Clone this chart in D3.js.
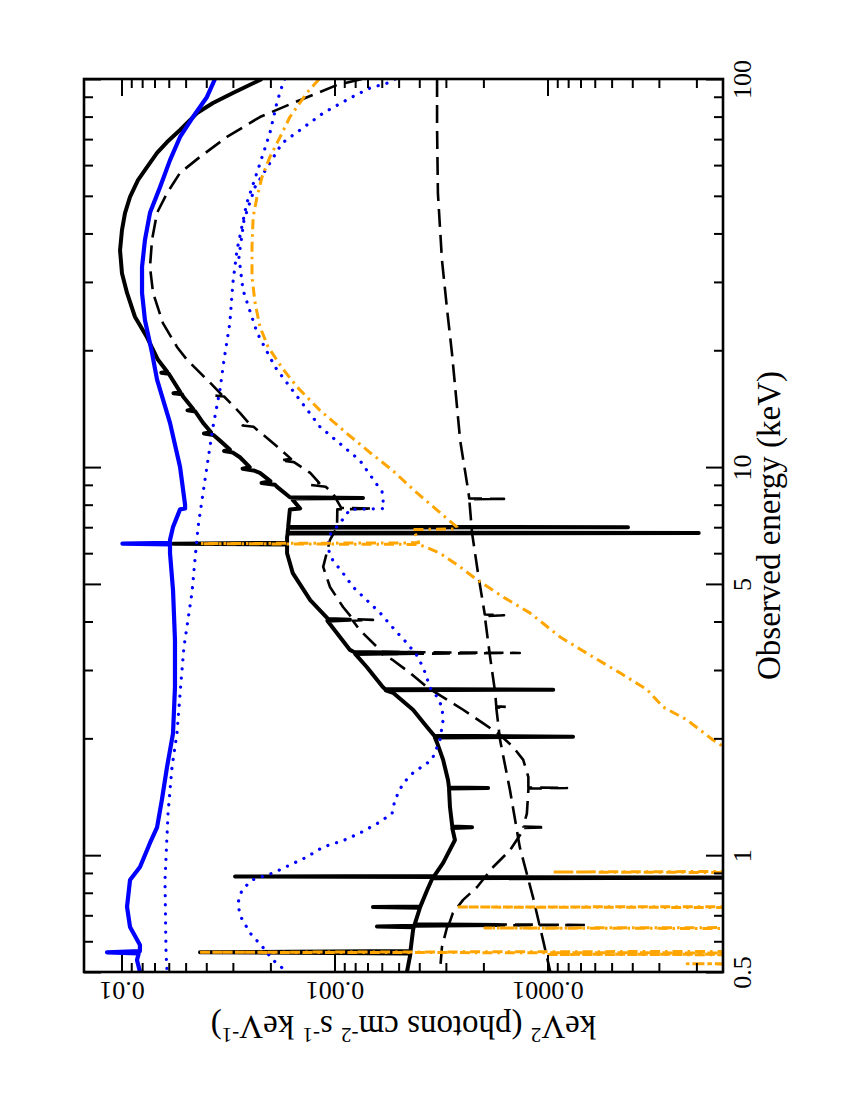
<!DOCTYPE html>
<html><head><meta charset="utf-8">
<script src="https://cdn.jsdelivr.net/npm/d3@7"></script>
<style>body{margin:0;background:#fff} text{font-family:"Liberation Serif","Times New Roman",serif}</style>
</head><body>
<svg id="c" width="850" height="1100"></svg>
<script>
// ---- tick values ----
const energyMajor = [0.5, 1, 5, 10, 100];
const energyMinor = [0.6, 0.7, 0.8, 0.9, 2, 3, 4, 6, 7, 8, 9, 20, 30, 40, 50, 60, 70, 80, 90];
const fluxMajor = [0.01, 0.001, 0.0001];
const fluxMinor = [0.009,0.008,0.007,0.006,0.005,0.004,0.003,0.002,
  0.0009,0.0008,0.0007,0.0006,0.0005,0.0004,0.0003,0.0002,
  0.00009,0.00008,0.00007,0.00006,0.00005,0.00004,0.00003,0.00002];

// ---- series: [energy keV, keV^2 flux] ----
const blueSolid = [[100,0.00364],[89.9,0.00397],[79.8,0.00462],[70.9,0.00531],[61.8,0.00592],[52.7,0.00659],[45.2,0.00735],[38.5,0.00776],[32.8,0.00801],[28.1,0.00801],[23.9,0.00776],[19.7,0.00719],[16.8,0.00681],[13.0,0.00592],[10.0,0.00531],[8.0,0.00503],[7.82,0.00503],[7.78,0.00531],[7.01,0.00573],[6.49,0.00592],[6.38,0.00592],[6.35,0.0099],[6.32,0.00592],[6.0,0.00592],[4.82,0.00573],[3.58,0.00561],[2.71,0.00561],[2.06,0.00573],[1.69,0.00611],[1.39,0.00646],[1.18,0.00681],[1.075,0.00735],[0.932,0.00819],[0.863,0.00912],[0.736,0.00942],[0.653,0.00912],[0.587,0.00819],[0.566,0.0082],[0.562,0.0117],[0.558,0.0083],[0.537,0.00846],[0.5,0.00819]];

const blackSolid = [[100,0.00219],[92.0,0.0030],[86.7,0.00372],[81.7,0.00442],[73.9,0.00531],[68.8,0.00611],[64.5,0.00681],[59.3,0.00759],[54.9,0.00837],[49.7,0.00912],[45.1,0.00963],[40.8,0.00995],[36.2,0.01016],[31.6,0.00995],[28.1,0.00942],[24.4,0.00865],[21.6,0.00759],[18.9,0.00674],
 [17.6,0.0061],[17.5,0.0065],[17.4,0.006],[16.1,0.00549],[15.6,0.0053],[15.5,0.0057],[15.4,0.0052],[15.2,0.00514],[14.1,0.0046],[14.0,0.0049],[13.9,0.0045],[13.0,0.00414],[12.3,0.0038],[12.2,0.0041],[12.1,0.0037],[11.7,0.00345],[11.1,0.0031],[11.0,0.0033],[10.9,0.003],[10.6,0.00278],[10.0,0.0025],[9.9,0.0027],[9.8,0.0024],[9.66,0.00224],[9.2,0.002],[9.1,0.0022],[9.0,0.0019],[8.89,0.00186],
 [8.36,0.00162],[8.33,0.000735],[8.30,0.00158],[8.23,0.00157],[7.82,0.00145],[7.78,0.00162],
 [7.02,0.00165],[7.0,4.19e-5],[6.98,0.00165],[6.78,0.00166],[6.76,1.95e-5],[6.74,0.00166],
 [6.60,0.00167],[6.38,0.00167],[6.35,0.00573],[6.32,0.00167],[6.0,0.00167],[5.33,0.00157],[4.54,0.0013],
 [4.06,0.00107],[4.04,0.000846],[4.02,0.00108],[3.38,0.000846],[3.34,0.00081],[3.32,0.00041],[3.30,0.0008],
 [3.05,0.000704],[2.71,0.000592],[2.68,0.00058],[2.67,9.4e-5],[2.66,0.000575],[2.62,0.000531],[2.37,0.000428],[2.14,0.000368],
 [2.03,0.00034],[2.02,7.59e-5],[2.01,0.000338],[1.95,0.00033],[1.76,0.000309],[1.56,0.000293],
 [1.495,0.00029],[1.49,0.00019],[1.485,0.00029],[1.33,0.000287],[1.185,0.00028],[1.18,0.000226],[1.175,0.00028],
 [1.094,0.000272],[0.955,0.000309],[0.884,0.00034],[0.881,0.00293],[0.878,0.00034],[0.875,1e-5],[0.872,0.000347],
 [0.811,0.000368],[0.738,0.000395],[0.735,0.00066],[0.732,0.000397],
 [0.664,0.00042],[0.661,0.000171],[0.658,0.00042],[0.655,0.000632],[0.652,0.000425],[0.64,0.000428],
 [0.566,0.00044],[0.562,0.00428],[0.558,0.00044],[0.55,0.000442],[0.5,0.000457]];

const dashedA = [[100,0.000743],[96.5,0.000973],[86.7,0.00157],[79.8,0.00224],[70.9,0.0032],[63.0,0.00428],[57.3,0.00531],[50.8,0.00611],[45.2,0.00681],[38.5,0.00719],[32.8,0.00735],[28.1,0.00711],[23.5,0.00639],[20.4,0.00549],[18.9,0.00493],[16.5,0.00384],
 [15.4,0.0034],[15.3,0.0037],[15.2,0.0033],[13.8,0.00278],[12.9,0.0025],[12.8,0.0027],[12.7,0.0024],[11.3,0.00186],[10.5,0.0016],[10.4,0.0018],[10.3,0.00155],[9.66,0.0013],[9.1,0.00118],[9.0,0.0013],[8.9,0.0011],
 [8.58,0.00102],[7.85,0.00093],[7.82,0.00066],[7.78,0.00097],[7.0,0.000973],[6.49,0.00105],[5.53,0.00113],[4.91,0.00105],[4.36,0.000912],
 [4.06,0.00082],[4.04,0.00066],[4.02,0.00082],[3.80,0.00076],[3.44,0.000632],[3.34,0.0006],[3.32,0.000135],[3.30,0.0006],
 [3.18,0.000531],[2.95,0.000442],[2.71,0.000368],[2.37,0.000249],[2.19,0.000201],[2.04,0.000167],[1.90,0.000145],[1.76,0.00013],[1.59,0.000123],
 [1.495,0.000123],[1.49,8.1e-5],[1.485,0.000123],[1.47,0.000123],[1.28,0.000125],[1.185,0.00013],[1.18,0.000102],[1.175,0.00013],
 [1.16,0.00013],[1.03,0.00015],[0.932,0.00018],[0.828,0.000214],[0.767,0.000249],[0.71,0.000278],
 [0.664,0.00029],[0.661,6.45e-5],[0.658,0.00029],[0.653,0.000296],[0.58,0.000313],[0.5,0.00032]];

const dashedC = [[100,0.00033],[75.2,0.00033],[50.8,0.000327],[34.2,0.000313],[25.4,0.000296],[19.7,0.000281],[11.7,0.000257],[8.73,0.000236],[8.3,0.000233],[8.28,0.00016],[8.26,0.000233],[6.76,0.000226],[5.33,0.000212],[4.17,0.000197],[4.15,0.00016],[4.13,0.000197],[3.24,0.000186],[2.62,0.000176],[2.42,0.000174],[2.41,0.000155],[2.40,0.000174],[1.98,0.000167],[1.47,0.00015],[1.05,0.000135],[0.78,0.000117],[0.605,0.000105],[0.5,9.7e-5]];

const dottedA = [[100,0.00171],[98.2,0.00174],[87.3,0.00186],[72.6,0.00201],[58.3,0.00229],[47.9,0.00258],[36.2,0.00287],[29.8,0.0030],[23.5,0.0031],[18.9,0.0033],[15.8,0.00345],[12.7,0.00372],[10.4,0.00393],[8.58,0.00414],[7.01,0.00437],[5.76,0.00452],[4.74,0.00467],[3.44,0.00509],[2.78,0.00526],[2.06,0.00549],[1.69,0.00579],[1.28,0.00605],[0.863,0.00625],[0.56,0.00618],[0.5,0.00611]];

const dottedB = [[100,0.00052],[97.7,0.000561],[94.8,0.000681],[89.3,0.000846],[81.7,0.00113],[73.9,0.00145],[68.4,0.00176],[52.7,0.00236],[43.3,0.00266],[34.8,0.00281],[28.6,0.00269],[22.2,0.00231],[18.1,0.0019],[16.1,0.00162],[12.7,0.00117],[10.4,0.00076],[8.63,0.000598],[7.82,0.000586],[7.78,0.000846],[7.17,0.000942],[6.76,0.00104],[6.22,0.00108],[5.76,0.00102],[5.33,0.000912],[4.91,0.000819],[4.21,0.000611],[3.80,0.00052],[3.52,0.000457],[3.24,0.000405],[2.96,0.000376],[2.70,0.000356],[2.56,0.00033],[2.41,0.000313],[2.23,0.000309],[1.98,0.00032],[1.76,0.000349],[1.63,0.000428],[1.53,0.000477],[1.39,0.00052],[1.28,0.000537],[1.21,0.000625],[1.14,0.00076],[1.09,0.000912],[1.05,0.00113],[0.989,0.00135],[0.90,0.00194],[0.863,0.00244],[0.813,0.00272],[0.753,0.00284],[0.70,0.00278],[0.63,0.00249],[0.579,0.00217],[0.536,0.00194],[0.5,0.00167]];

const orangeDD = [[100,0.00118],[92.0,0.00135],[79.8,0.00162],[70.9,0.0018],[63.0,0.00201],[55.9,0.00219],[49.7,0.00231],[44.1,0.00241],[36.9,0.00244],[30.9,0.00244],[26.5,0.00236],[23.0,0.00224],[20.4,0.00205],[18.0,0.00176],[16.1,0.0015],[14.0,0.00117],[12.2,0.000873],[10.9,0.000681],[9.83,0.000537],[8.58,0.00041],[7.75,0.00033],[7.0,0.000266],[6.93,0.000266],[6.90,0.000428],[6.6,0.00041],[6.38,0.000403],[6.35,0.00428],[6.32,0.0004],[6.0,0.00032],[5.53,0.000257],[5.12,0.000214],[4.63,0.000162],[4.21,0.000121],[3.65,8.73e-5],[3.24,6.11e-5],[2.95,4.57e-5],[2.67,3.41e-5],[2.41,2.87e-5],[2.23,2.21e-5],[1.98,1.67e-5],[1.87,1.42e-5],[1.5,6e-6],
 [0.91,3e-6],[0.905,9.5e-5],[0.90,3e-6],[0.738,2e-6],[0.735,0.000266],[0.732,2e-6],[0.652,2e-6],[0.649,0.000197],[0.646,2e-6],
 [0.566,1.5e-6],[0.562,0.00428],[0.559,1.5e-6],[0.557,1.5e-6],[0.555,0.0001],[0.553,1.5e-6],[0.528,1.2e-6],[0.525,2.21e-5],[0.522,1.2e-6],[0.5,1e-6]];

// ---- layout ----
const L = 84, R = 723, T = 79, B = 972;
const svg = d3.select("#c");
const yE = d3.scaleLog().domain([0.5, 100]).range([B, T]);
const xF = d3.scaleLog().domain([0.015, 1.5e-5]).range([L, R]);

svg.append("defs").append("clipPath").attr("id","clip")
  .append("rect").attr("x",L).attr("y",T).attr("width",R-L).attr("height",B-T);

const plot = svg.append("g").attr("clip-path","url(#clip)");
const line = d3.line().x(d => xF(d[1])).y(d => yE(d[0]));

function draw(data, color, width, dash, cap){
  plot.append("path").datum(data).attr("d", line)
    .attr("fill","none").attr("stroke",color).attr("stroke-width",width)
    .attr("stroke-linejoin","round").attr("stroke-linecap",cap||"butt")
    .attr("stroke-dasharray",dash||null);
}
draw(dashedC, "#000", 2.6, "18,8");
draw(dashedA, "#000", 2.6, "18,8");
draw(blackSolid, "#000", 4);
draw(dottedA, "#0000ff", 3.2, "0.1,9", "round");
draw(dottedB, "#0000ff", 3.2, "0.1,9", "round");
draw(orangeDD, "#ffa500", 3, "10,5,2.5,5");
draw(blueSolid, "#0000ff", 4.2);

// ---- axes ----
function styleAxis(g){
  g.select(".domain").remove();
  g.selectAll("line").attr("stroke","#000").attr("stroke-width",2);
  g.selectAll("text").attr("font-family",null).style("font-family",'"Liberation Serif","Times New Roman",serif')
    .attr("font-size",26).attr("fill","#000");
}
const gR = svg.append("g").attr("transform",`translate(${R},0)`)
  .call(d3.axisRight(yE).tickValues(energyMajor).tickSize(-17).tickFormat(d => String(d)));
styleAxis(gR);
gR.selectAll("text").attr("x",0).attr("dy","0.35em").attr("text-anchor","middle")
  .attr("transform","translate(19,0) rotate(-90)");
svg.append("g").attr("transform",`translate(${R},0)`)
  .call(d3.axisRight(yE).tickValues(energyMinor).tickSize(-9).tickFormat("")).call(styleAxis);
svg.append("g").attr("transform",`translate(${L},0)`)
  .call(d3.axisLeft(yE).tickValues(energyMajor).tickSize(-17).tickFormat("")).call(styleAxis);
svg.append("g").attr("transform",`translate(${L},0)`)
  .call(d3.axisLeft(yE).tickValues(energyMinor).tickSize(-9).tickFormat("")).call(styleAxis);

const gB = svg.append("g").attr("transform",`translate(0,${B})`)
  .call(d3.axisBottom(xF).tickValues(fluxMajor).tickSize(-17).tickFormat(d => String(d)));
styleAxis(gB);
gB.selectAll("text").attr("y",0).attr("dy","0.35em").attr("text-anchor","middle")
  .attr("transform","translate(0,19) rotate(180)");
svg.append("g").attr("transform",`translate(0,${B})`)
  .call(d3.axisBottom(xF).tickValues(fluxMinor).tickSize(-9).tickFormat("")).call(styleAxis);
svg.append("g").attr("transform",`translate(0,${T})`)
  .call(d3.axisTop(xF).tickValues(fluxMajor).tickSize(-17).tickFormat("")).call(styleAxis);
svg.append("g").attr("transform",`translate(0,${T})`)
  .call(d3.axisTop(xF).tickValues(fluxMinor).tickSize(-9).tickFormat("")).call(styleAxis);

svg.append("rect").attr("x",L).attr("y",T).attr("width",R-L).attr("height",B-T)
  .attr("fill","none").attr("stroke","#000").attr("stroke-width",2.6);

// titles
svg.append("text").attr("transform",`translate(780,${(T+B)/2}) rotate(-90)`)
  .attr("text-anchor","middle").attr("font-size",33)
  .text("Observed energy (keV)");

const yt = svg.append("text").attr("transform",`translate(${(L+R)/2},1016) rotate(180)`)
  .attr("text-anchor","middle").attr("font-size",33);
const parts = [["keV",0],["2",1],[" (photons cm",0],["-2",1],[" s",0],["-1",1],[" keV",0],["-1",1],[")",0]];
parts.forEach(([t,s]) => {
  const ts = yt.append("tspan").text(t);
  if (s) ts.attr("baseline-shift","super").attr("font-size",21);
});
</script>
</body></html>
